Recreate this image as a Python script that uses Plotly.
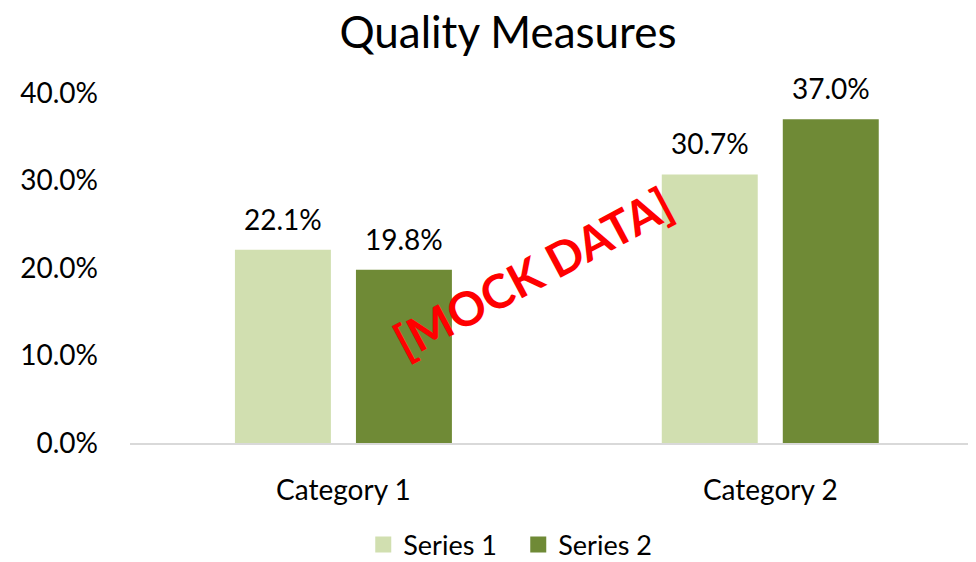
import plotly.graph_objects as go

categories = ["Category 1", "Category 2"]
series_names = ["Series 1", "Series 2"]
series1 = [0.221, 0.307]
series2 = [0.198, 0.370]
colors = ["#d1dfb0", "#6f8a36"]
y_ticks = [0.0, 0.1, 0.2, 0.3, 0.4]
y_tick_labels = ["0.0%", "10.0%", "20.0%", "30.0%", "40.0%"]

FONT = "Lato, Open Sans, sans-serif"

fig = go.Figure()
for name, vals, col in zip(series_names, [series1, series2], colors):
    fig.add_trace(go.Bar(x=categories, y=vals, name=name, marker_color=col,
                         marker_line_width=0, hoverinfo="skip", showlegend=False))
# legend entries (square swatches)
for name, col in zip(series_names, colors):
    fig.add_trace(go.Scatter(x=[None], y=[None], mode="markers", name=name,
                             marker=dict(symbol="square", size=16, color=col, line_width=0),
                             showlegend=True, hoverinfo="skip"))

annotations = []
for vals, shift in zip([series1, series2], [-60.5, 60.5]):
    for c, v in zip(categories, vals):
        annotations.append(dict(x=c, y=v, text=f"{v*100:.1f}%", xshift=shift, yshift=12,
                                yanchor="bottom", showarrow=False,
                                font=dict(family=FONT, size=28, color="#000000")))
annotations.append(dict(x=0.444, y=0.1954, xref="x", yref="y", text="<b>[MOCK DATA]</b>",
                        showarrow=False, textangle=-28,
                        font=dict(family=FONT, size=47, color="#ff0000")))

fig.update_layout(
    width=968, height=554,
    margin=dict(l=122, r=0, t=85, b=119),
    paper_bgcolor="white", plot_bgcolor="white",
    barmode="group", bargap=0.433, bargroupgap=0.207,
    title=dict(text="Quality Measures", x=0.5165, xanchor="center", y=0.9556, yanchor="middle",
               font=dict(family=FONT, size=44, color="#000000")),
    font=dict(family=FONT, color="#000000"),
    showlegend=True,
    legend=dict(orientation="h", xref="container", yref="container",
                x=0.367, xanchor="left", y=0.0307, yanchor="middle",
                entrywidth=110, entrywidthmode="pixels",
                font=dict(family=FONT, size=27, color="#000000"), itemsizing="trace"),
    annotations=annotations,
)
fig.update_xaxes(range=[-0.5, 1.482], showgrid=False, showline=True, linecolor="#d9d9d9",
                 linewidth=2, ticks="", tickfont=dict(family=FONT, size=28, color="#000000"),
                 ticklabelstandoff=21, fixedrange=True)
fig.update_yaxes(range=[0, 0.4], tickvals=y_ticks, ticktext=y_tick_labels, showgrid=False,
                 zeroline=False, showline=False, ticks="",
                 tickfont=dict(family=FONT, size=28, color="#000000"),
                 ticklabelstandoff=31, fixedrange=True)

fig.write_html("out.html")
